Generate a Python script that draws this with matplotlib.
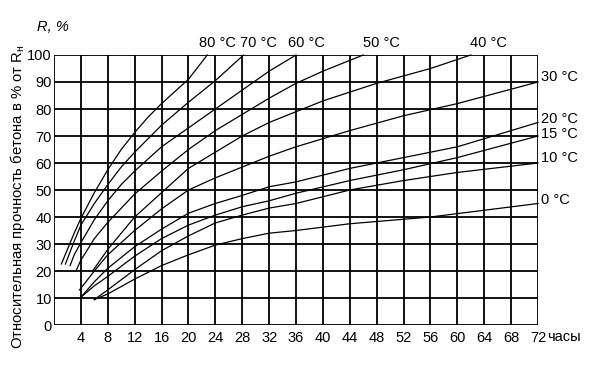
import matplotlib
matplotlib.use("Agg")
import matplotlib.pyplot as plt

plt.rcParams['font.family'] = ['Liberation Sans', 'DejaVu Sans']

# hours / relative strength (%)
h80 = [1.1, 2, 3, 4, 6, 8, 10, 12, 14, 16, 18, 20, 22.8]
r80 = [22.6, 28, 34, 39.5, 49, 57.5, 65, 71.3, 77, 82, 86.5, 91, 100]
h70 = [1.7, 3, 4, 6, 8, 10, 12, 14, 16, 20, 24, 28.2]
r70 = [22.6, 31, 37, 45, 52, 58.5, 64, 69, 74, 82.5, 90.5, 100]
h60 = [2.4, 3, 4, 6, 8, 10, 12, 16, 20, 24, 28, 32, 36]
r60 = [22, 26, 30.5, 39, 46, 52, 57, 66, 73, 80, 87, 94, 100]
h50 = [3.3, 4, 6, 8, 12, 16, 20, 24, 28, 32, 36, 40, 46]
r50 = [20.2, 24, 32, 38, 48.5, 57, 65, 72, 78, 84, 89.5, 94, 100]
h40 = [5.8, 8, 12, 16, 20, 24, 28, 32, 36, 40, 48, 56, 62]
r40 = [20.2, 28, 40, 49, 58, 64, 70, 75, 79, 83, 89.5, 95, 100]
h30 = [3.8, 6, 8, 12, 16, 20, 24, 28, 32, 36, 44, 52, 60, 72]
r30 = [13, 20, 26, 35, 43, 50, 54.5, 58.5, 62.5, 66, 72, 77.5, 82, 90]
h20 = [4, 6, 8, 12, 16, 20, 24, 28, 32, 36, 44, 52, 60, 72]
r20 = [10.3, 16, 21, 29, 35.5, 41.4, 45, 48, 51.2, 53, 58, 62, 66, 75]
h15 = [4, 6, 8, 12, 16, 20, 24, 28, 32, 36, 44, 52, 60, 72]
r15 = [10.3, 14.5, 18, 25.5, 32, 37, 40.7, 43.8, 46, 48.8, 53.5, 57.5, 62, 70]
h10 = [6, 8, 12, 16, 20, 24, 28, 32, 36, 44, 52, 60, 72]
r10 = [9.4, 13, 20.5, 27.5, 33, 37.8, 40.7, 43.3, 45, 50, 53.5, 56.5, 60]
h0 = [6, 8, 12, 16, 20, 24, 28, 32, 36, 44, 56, 64, 72]
r0 = [9.4, 11.5, 17, 22, 26, 29.6, 32, 34, 35, 37.5, 40, 42.5, 45]

top_labels = ['80 °C', '70 °C', '60 °C', '50 °C', '40 °C']
top_label_x = [24.3, 30.4, 37.5, 48.7, 64.6]
right_labels = ['30 °C', '20 °C', '15 °C', '10 °C', '0 °C']
right_label_y = [91.9, 76.3, 70.7, 61.9, 46.3]

x_ticks = list(range(4, 73, 4))
y_ticks = list(range(0, 101, 10))

fig = plt.figure(figsize=(5.94, 3.78), dpi=100)
ax = fig.add_axes([0.0909, 0.1402, 0.8148, 0.7143])
ax.set_xlim(0, 72)
ax.set_ylim(0, 100)

for xv in [0] + x_ticks:
    ax.axvline(xv, color='black', lw=1.3, zorder=1)
for yv in y_ticks:
    ax.axhline(yv, color='black', lw=1.3, zorder=1)

for hs, rs in [(h80, r80), (h70, r70), (h60, r60), (h50, r50), (h40, r40),
               (h30, r30), (h20, r20), (h15, r15), (h10, r10), (h0, r0)]:
    ax.plot(hs, rs, color='black', lw=0.9, zorder=2, clip_on=False)

for s in ax.spines.values():
    s.set_visible(False)
ax.set_xticks(x_ticks)
ax.set_xticklabels([str(v) for v in x_ticks])
ax.set_yticks(y_ticks)
ax.set_yticklabels([str(v) for v in y_ticks])
ax.tick_params(axis='both', length=0, labelsize=10.5)
ax.tick_params(axis='y', pad=1.5)
ax.tick_params(axis='x', pad=4)

ax.text(73.3, -4.6, 'часы', fontsize=10.5, ha='left', va='center')
ax.text(-2.6, 110.4, 'R, %', fontsize=10.5, style='italic', ha='left', va='center')
for lab, xv in zip(top_labels, top_label_x):
    ax.text(xv, 104.5, lab, fontsize=10.5, ha='center', va='center')
for lab, yv in zip(right_labels, right_label_y):
    ax.text(72.5, yv, lab, fontsize=10.5, ha='left', va='center')

fig.text(0.03, 0.479, 'Относительная прочность бетона в % от R$_{\\mathregular{н}}$',
         rotation=90, fontsize=10.7, ha='center', va='center')

fig.savefig('out.png', dpi=100)
